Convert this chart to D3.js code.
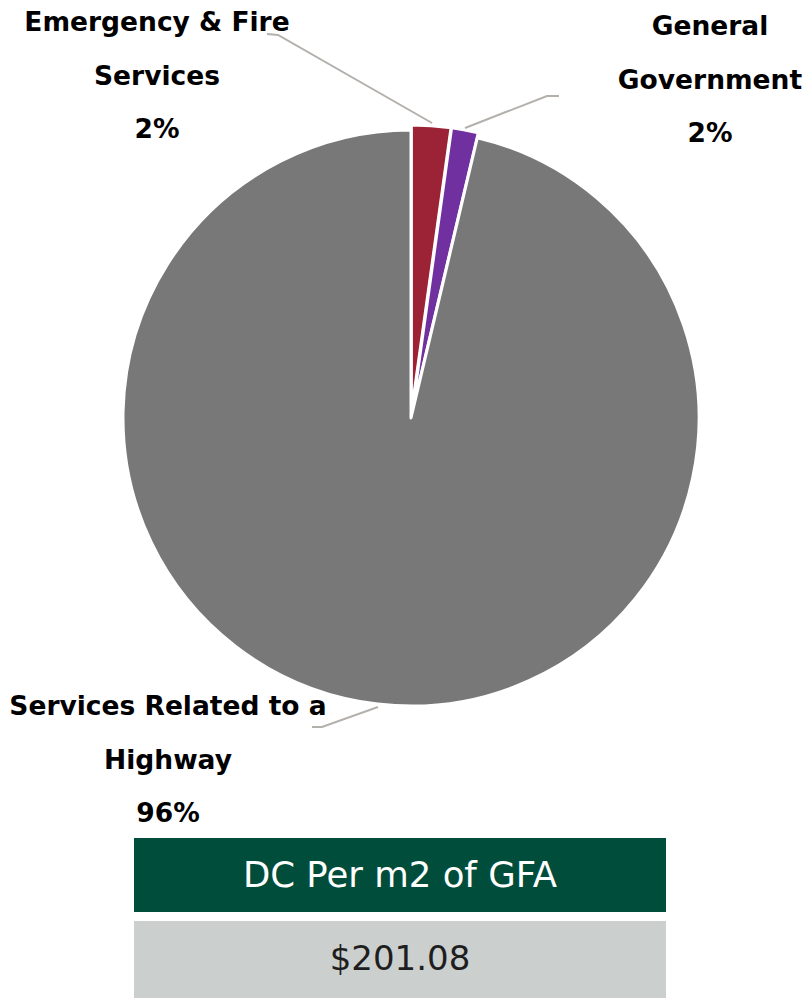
<!DOCTYPE html>
<html>
<head>
<meta charset="utf-8">
<script src="https://cdn.jsdelivr.net/npm/d3@7"></script>
<style>
  html, body { margin: 0; padding: 0; background: #fff; }
  svg { display: block; }
  text { font-family: "DejaVu Sans", "Noto Sans", sans-serif; }
</style>
</head>
<body>
<svg id="chart" width="809" height="1000"></svg>
<script>
// Development charge share by service category (percent of total)
const categories = ["Emergency & Fire Services", "General Government", "Services Related to a Highway"];
const shares = [2.2, 1.5, 96.3];
const colors = ["#9b2335", "#7030a0", "#787878"];
// Label lines per category (name wrapped as shown)
const labelLines = [["Emergency & Fire", "Services"], ["General", "Government"], ["Services Related to a", "Highway"]];
const summaryTitle = "DC Per m2 of GFA";
const summaryValue = "$201.08";

const svg = d3.select("#chart");
const cx = 411, cy = 418, radius = 288;
const explode = [5, 5, 0];

const pie = d3.pie().sort(null).value(d => d)(shares);
const arc = d3.arc().innerRadius(0).outerRadius(radius);

const g = svg.append("g").attr("transform", `translate(${cx},${cy})`);

g.selectAll("path.slice")
  .data(pie)
  .join("path")
  .attr("class", "slice")
  .attr("d", arc)
  .attr("fill", (d, i) => colors[i])
  .attr("stroke", "#fff")
  .attr("stroke-width", 3)
  .attr("stroke-linejoin", "round")
  .attr("transform", (d, i) => {
    const a = (d.startAngle + d.endAngle) / 2;
    return `translate(${Math.sin(a) * explode[i]},${-Math.cos(a) * explode[i]})`;
  });

// Leader lines: from slice edge to the label
const leaderPts = [
  [[432, 123], [278, 35], [267, 34]],
  [[465, 128], [547, 96], [559, 96]],
  [[378, 707], [322, 727], [312, 727]]
];
svg.selectAll("path.leader")
  .data(leaderPts)
  .join("path")
  .attr("class", "leader")
  .attr("d", d => d3.line()(d))
  .attr("fill", "none")
  .attr("stroke", "#b4b0ac")
  .attr("stroke-width", 2);

// Data labels: name lines + rounded percentage
const labelPos = [[157, 31], [710, 35], [168, 715]];
const lineH = 53.5;
labelLines.forEach((lines, i) => {
  const t = svg.append("text")
    .attr("text-anchor", "middle")
    .attr("font-size", 26.5)
    .attr("font-weight", 700)
    .attr("fill", "#000");
  const all = lines.concat([Math.round(shares[i]) + "%"]);
  all.forEach((s, k) => {
    t.append("tspan")
      .attr("x", labelPos[i][0])
      .attr("y", labelPos[i][1] + k * lineH)
      .text(s);
  });
});

// Summary box below the pie
const boxX = 134, boxW = 532;
svg.append("rect").attr("x", boxX).attr("y", 838).attr("width", boxW).attr("height", 74).attr("fill", "#004d3b");
svg.append("text").attr("x", boxX + boxW / 2).attr("y", 887)
  .attr("text-anchor", "middle").attr("font-size", 35.5)
  .attr("fill", "#fff").text(summaryTitle);
svg.append("rect").attr("x", boxX).attr("y", 921).attr("width", boxW).attr("height", 77).attr("fill", "#cbcfce");
svg.append("text").attr("x", boxX + boxW / 2).attr("y", 970)
  .attr("text-anchor", "middle").attr("font-size", 34)
  .attr("fill", "#1e1e1e").text(summaryValue);
</script>
</body>
</html>
